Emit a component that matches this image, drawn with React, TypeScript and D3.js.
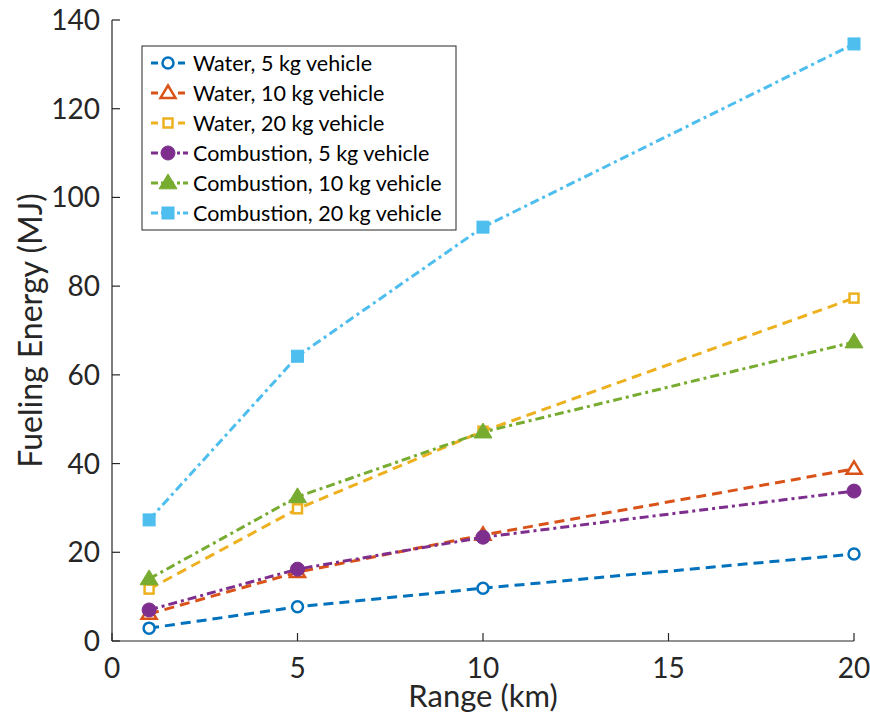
import React from 'react';
import * as d3 from 'd3';

const ranges = [1, 5, 10, 20];
const water5 = [2.9, 7.7, 11.9, 19.6];
const water10 = [6.1, 15.5, 23.9, 38.8];
const water20 = [11.7, 29.8, 47.3, 77.3];
const comb5 = [7.0, 16.2, 23.4, 33.8];
const comb10 = [14.0, 32.5, 47.1, 67.4];
const comb20 = [27.3, 64.2, 93.3, 134.6];
const xTicks = [0, 5, 10, 15, 20];
const yTicks = [0, 20, 40, 60, 80, 100, 120, 140];

const series = [
  { name: 'Water, 5 kg vehicle', values: water5, color: '#0072BD', dash: '10,6', marker: 'circle', filled: false },
  { name: 'Water, 10 kg vehicle', values: water10, color: '#D95319', dash: '10,6', marker: 'triangle', filled: false },
  { name: 'Water, 20 kg vehicle', values: water20, color: '#EDB120', dash: '10,6', marker: 'square', filled: false },
  { name: 'Combustion, 5 kg vehicle', values: comb5, color: '#7E2F8E', dash: '9,4,3,4', marker: 'circle', filled: true },
  { name: 'Combustion, 10 kg vehicle', values: comb10, color: '#77AC30', dash: '9,4,3,4', marker: 'triangle', filled: true },
  { name: 'Combustion, 20 kg vehicle', values: comb20, color: '#4DBEEE', dash: '9,4,3,4', marker: 'square', filled: true },
];

const font = 'Lato, "Open Sans", sans-serif';

const Marker = ({ type, filled, color, x, y }) => {
  const fill = filled ? color : 'white';
  const sw = filled ? 1 : 2.5;
  if (type === 'circle') {
    const r = filled ? 7 : 5.5;
    return <circle cx={x} cy={y} r={r} fill={fill} stroke={color} strokeWidth={sw} />;
  }
  if (type === 'triangle') {
    const s = filled ? 9 : 7.5;
    const pts = `${x},${y - s} ${x + s},${y + s * 0.65} ${x - s},${y + s * 0.65}`;
    return <polygon points={pts} fill={fill} stroke={color} strokeWidth={sw} strokeLinejoin="miter" />;
  }
  const h = filled ? 6 : 4.5;
  return <rect x={x - h} y={y - h} width={h * 2} height={h * 2} fill={fill} stroke={color} strokeWidth={sw} />;
};

export default function App() {
  const width = 870;
  const height = 713;
  const left = 112;
  const right = 854;
  const top = 20;
  const bottom = 641;

  const x = d3.scaleLinear().domain([0, 20]).range([left, right]);
  const y = d3.scaleLinear().domain([0, 140]).range([bottom, top]);

  const line = d3.line<number>()
    .x((d, i) => x(ranges[i]))
    .y(d => y(d));

  const legX = 142;
  const legY = 46;
  const legW = 314;
  const legH = 184;
  const rowH = 30;

  return (
    <svg width={width} height={height} style={{ position: 'absolute', left: 0, top: 0 }}>
      <rect width={width} height={height} fill="white" />
      {/* axes */}
      <line x1={left} y1={top} x2={left} y2={bottom} stroke="#262626" strokeWidth={1.2} />
      <line x1={left} y1={bottom} x2={right} y2={bottom} stroke="#262626" strokeWidth={1.2} />
      {xTicks.map(t => (
        <g key={'x' + t}>
          <line x1={x(t)} x2={x(t)} y1={bottom} y2={bottom - 8} stroke="#262626" strokeWidth={1.2} />
          <text x={x(t)} y={bottom + 37} textAnchor="middle" fontFamily={font} fontSize={28} fill="#262626">{t}</text>
        </g>
      ))}
      {yTicks.map(t => (
        <g key={'y' + t}>
          <line x1={left} x2={left + 8} y1={y(t)} y2={y(t)} stroke="#262626" strokeWidth={1.2} />
          <text x={left - 12} y={y(t) + 10} textAnchor="end" fontFamily={font} fontSize={28} fill="#262626">{t}</text>
        </g>
      ))}
      <text x={483} y={707} textAnchor="middle" fontFamily={font} fontSize={31} fill="#262626">Range (km)</text>
      <text transform={`translate(42,${(top + bottom) / 2}) rotate(-90)`} textAnchor="middle" fontFamily={font} fontSize={32} fill="#262626">Fueling Energy (MJ)</text>

      {/* series */}
      {series.map(s => (
        <g key={s.name}>
          <path d={line(s.values) || ''} fill="none" stroke={s.color} strokeWidth={3} strokeDasharray={s.dash} />
          {s.values.map((v, i) => (
            <Marker key={i} type={s.marker} filled={s.filled} color={s.color} x={x(ranges[i])} y={y(v)} />
          ))}
        </g>
      ))}

      {/* legend */}
      <rect x={legX} y={legY} width={legW} height={legH} fill="white" stroke="#262626" strokeWidth={1} />
      {series.map((s, i) => {
        const cy = legY + 17 + i * rowH;
        return (
          <g key={'leg' + s.name}>
            <line x1={legX + 9} x2={legX + 46} y1={cy} y2={cy} stroke={s.color} strokeWidth={3} strokeDasharray={s.filled ? '7,3,3,3' : '7,20'} />
            <Marker type={s.marker} filled={s.filled} color={s.color} x={legX + 26} y={cy} />
            <text x={legX + 51} y={cy + 7.5} fontFamily={font} fontSize={21.5} fill="black">{s.name}</text>
          </g>
        );
      })}
    </svg>
  );
}
